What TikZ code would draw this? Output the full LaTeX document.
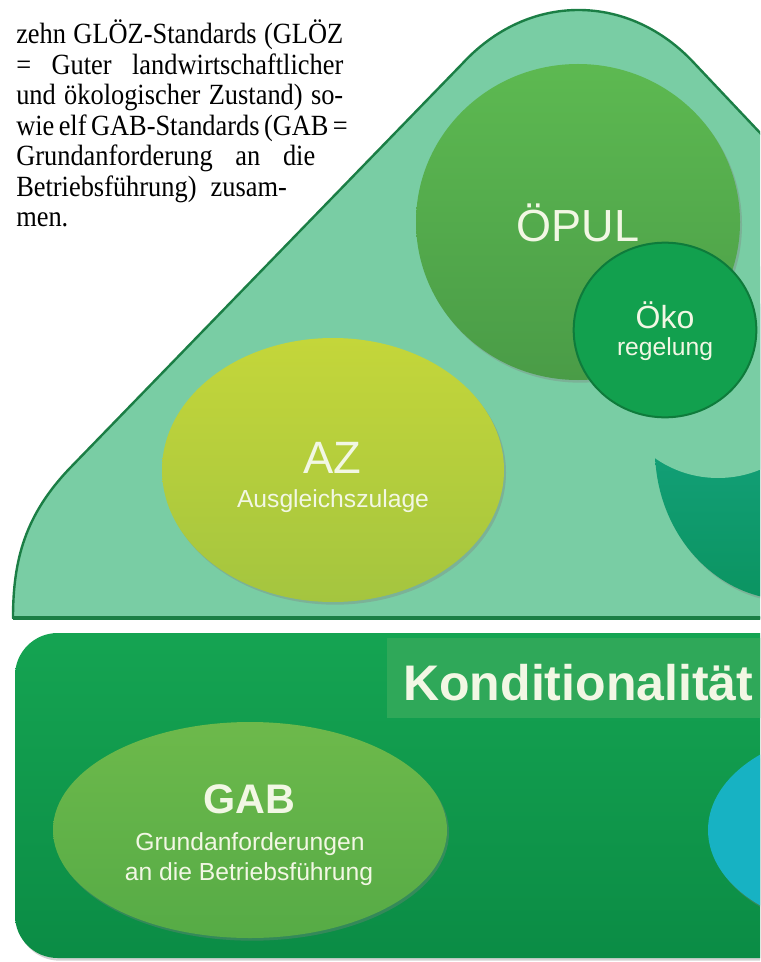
\documentclass[tikz,border=0pt]{standalone}
\usepackage{fontspec}
\setmainfont[FakeStretch=0.9]{Liberation Serif}
\setsansfont{Liberation Sans}
\usetikzlibrary{shapes.geometric,shadows}
\definecolor{mint}{HTML}{79CDA4}
\definecolor{mintborder}{HTML}{1B7E45}
\definecolor{opultop}{HTML}{5DB951}
\definecolor{opulbot}{HTML}{4A9C47}
\definecolor{okofill}{HTML}{12A04E}
\definecolor{okoborder}{HTML}{0E7B3B}
\definecolor{aztop}{HTML}{C4D63A}
\definecolor{azbot}{HTML}{A4C53F}
\definecolor{tealtop}{HTML}{1AAA8C}
\definecolor{tealbot}{HTML}{0B9461}
\definecolor{boxtop}{HTML}{15A452}
\definecolor{boxbot}{HTML}{0B8C45}
\definecolor{band}{HTML}{2FA859}
\definecolor{gabtop}{HTML}{6DB94B}
\definecolor{gabbot}{HTML}{56AB46}
\definecolor{cyanfill}{HTML}{17B2C3}
\definecolor{cream}{HTML}{F2F7E4}
\tikzset{
  blob/.style={ellipse, inner sep=0pt, draw=none},
  softshadow/.style={drop shadow={opacity=0.35, shadow xshift=1.5pt, shadow yshift=-2pt}},
  bodyline/.style={inner sep=0pt, anchor=base west, font=\fontsize{22}{26}\selectfont},
  lbl/.style={inner sep=0pt, anchor=base, text=cream, font=\sffamily},
}
\begin{document}
\begin{tikzpicture}[x=0.75pt,y=-0.75pt]
\useasboundingbox (0,0) rectangle (760,962);
\clip (0,0) rectangle (760,962);
% running text
\node[bodyline] (t1) at (16,44) {\makebox[245.25pt][s]{zehn GLÖZ-Standards (GLÖZ}};
\node[bodyline] (t2) at (16,74.5) {\makebox[245.25pt][s]{= Guter landwirtschaftlicher}};
\node[bodyline] (t3) at (16,105) {\makebox[245.25pt][s]{und ökologischer Zustand) so-}};
\node[bodyline] (t4) at (16,135.5) {\makebox[245.25pt][s]{wie elf GAB-Standards (GAB =}};
\node[bodyline] (t5) at (16,166) {\makebox[224.25pt][s]{Grundanforderung an die}};
\node[bodyline] (t6) at (16,196.5) {\makebox[203pt][s]{Betriebsführung) zusam-}};
\node[bodyline] (t7) at (16,227) {men.};
% big triangle area
\path[fill=mint, draw=mintborder, line width=1.8pt, line join=round]
  (13,618) .. controls (13,560) and (25,515) .. (70,468)
  -- (462,64) .. controls (528,-8) and (629,-8) .. (695,64)
  -- (900,281) -- (900,618) -- cycle;
\draw[mintborder, line width=3pt] (13,618) -- (900,618);
% teal crescent (partly hidden)
\node[blob, minimum width=202.5pt, minimum height=225pt, top color=tealtop, bottom color=tealbot, softshadow] (dz) at (790,450) {};
\fill[mint] (718,368) circle [radius=110];
% OEPUL
\node[blob, minimum width=243pt, minimum height=237pt, top color=opultop, bottom color=opulbot, softshadow] (opul) at (578,222) {};
\node[lbl, font=\sffamily\fontsize{33.75}{40}\selectfont] (opultxt) at (578,242) {ÖPUL};
% Oeko
\node[blob, draw=okoborder, line width=1.5pt, fill=okofill, minimum width=137pt, minimum height=131pt] (oko) at (665,330) {};
\node[lbl, font=\sffamily\fontsize{24}{28}\selectfont] (okotxt) at (665,328) {Öko};
\node[lbl, font=\sffamily\fontsize{18.5}{22}\selectfont] (regtxt) at (665,355) {regelung};
% AZ
\node[blob, minimum width=256.5pt, minimum height=198pt, top color=aztop, bottom color=azbot, softshadow] (az) at (333,470) {};
\node[lbl, font=\sffamily\fontsize{34}{40}\selectfont] (aztxt) at (332,473) {AZ};
\node[lbl, font=\sffamily\fontsize{18.5}{22}\selectfont] (azsub) at (333,507) {Ausgleichszulage};
% Konditionalitaet box
\path[top color=boxtop, bottom color=boxbot, rounded corners=32pt, softshadow] (15,633) rectangle (900,958);
\node[inner sep=0pt, fill=band, minimum width=294.75pt, minimum height=60pt, anchor=north west] (band) at (387,638) {};
\node[inner sep=0pt, anchor=base west, text=cream, font=\sffamily\bfseries\fontsize{37.5}{44}\selectfont] (kond) at (403,700) {Konditionalität};
% GAB
\node[blob, minimum width=295.5pt, minimum height=162pt, top color=gabtop, bottom color=gabbot, softshadow] (gab) at (250,830) {};
\node[lbl, font=\sffamily\bfseries\fontsize{31}{36}\selectfont] (gabtxt) at (249,813) {GAB};
\node[lbl, font=\sffamily\fontsize{18.5}{22}\selectfont] (gabs1) at (250,850) {Grundanforderungen};
\node[lbl, font=\sffamily\fontsize{18.5}{22}\selectfont] (gabs2) at (249,880) {an die Betriebsführung};
% cyan ellipse at right
\node[blob, minimum width=228pt, minimum height=150pt, fill=cyanfill, softshadow] (cyan) at (860,830) {};
\end{tikzpicture}
\end{document}
